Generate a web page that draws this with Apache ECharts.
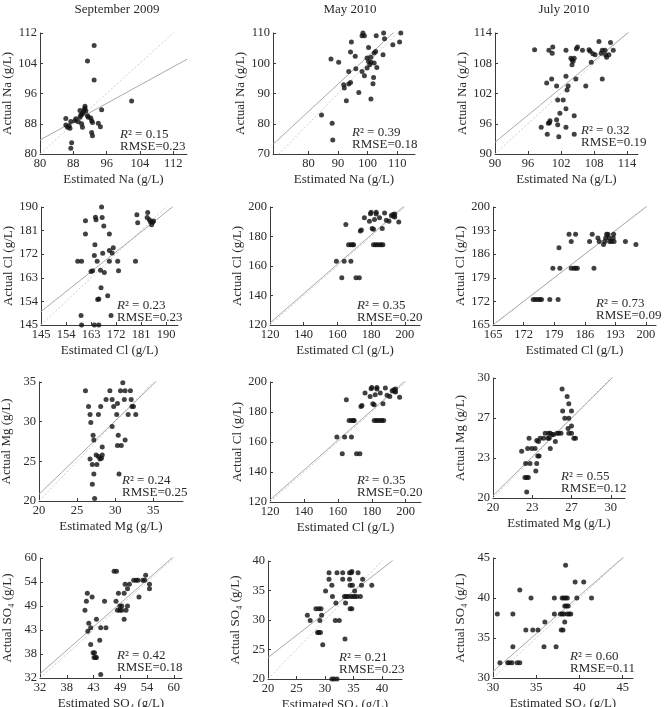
<!DOCTYPE html>
<html><head><meta charset="utf-8">
<script src="https://cdn.jsdelivr.net/npm/echarts@6/dist/echarts.min.js"></script>
<style>html,body{margin:0;padding:0;background:#fff}#c{width:665px;height:707px}</style>
</head><body><div id="c"></div>
<script>
// ---------- DATA ----------
const columnTitles = ['September 2009', 'May 2010', 'July 2010'];
const xAxisNames = ['Estimated Na (g/L)','Estimated Na (g/L)','Estimated Na (g/L)',
  'Estimated Cl (g/L)','Estimated Cl (g/L)','Estimated Cl (g/L)',
  'Estimated Mg (g/L)','Estimated Cl (g/L)','Estimated Mg (g/L)',
  'Estimated SO\u2084 (g/L)','Estimated SO\u2084 (g/L)','Estimated SO\u2084 (g/L)'];
const yAxisNames = ['Actual Na (g/L)','Actual Na (g/L)','Actual Na (g/L)',
  'Actual Cl (g/L)','Actual Cl (g/L)','Actual Cl (g/L)',
  'Actual Mg (g/L)','Actual Cl (g/L)','Actual Mg (g/L)',
  'Actual SO\u2084 (g/L)','Actual SO\u2084 (g/L)','Actual SO\u2084 (g/L)'];
const r2Values   = ['0.15','0.39','0.32','0.23','0.35','0.73','0.24','0.35','0.55','0.42','0.21','0.60'];
const rmseValues = ['0.23','0.18','0.19','0.23','0.20','0.09','0.25','0.20','0.12','0.18','0.23','0.11'];
// fitted regression line y = a + b*x
const fitIntercepts = [35.3, 11.5, 11.6, 27.9, 2.0, 0.0, 2.35, 2.0, 0.8, 1.7, 8.6, 2.4];
const fitSlopes     = [0.605, 0.907, 0.897, 0.843, 0.995, 1.0, 0.925, 0.995, 0.97, 0.978, 0.752, 0.947];

const ticksNaSep = [80, 88, 96, 104, 112];
const ticksNaMayX = [80, 90, 100, 110];
const ticksNaMayY = [70, 80, 90, 100, 110];
const ticksNaJul = [90, 96, 102, 108, 114];
const ticksClSep = [145, 154, 163, 172, 181, 190];
const ticksClMay = [120, 140, 160, 180, 200];
const ticksClJul = [165, 172, 179, 186, 193, 200];
const ticksMgSep = [20, 25, 30, 35];
const ticksMgJul = [20, 23.33, 26.67, 30];
const ticksSo4Sep = [32, 37.6, 43.2, 48.8, 54.4, 60];
const ticksSo4May = [20, 25, 30, 35, 40];
const ticksSo4Jul = [30, 35, 40, 45];

const sep09Na = [[93.0,108.7],[91.4,104.6],[93.0,99.6],[102.0,94.0],[94.8,91.7],[86.2,89.4],[86.2,87.7],[86.6,87.1],[87.2,86.8],[87.0,87.5],[87.4,88.6],[88.4,88.8],[88.6,89.3],[89.2,88.5],[89.6,89.7],[89.8,90.3],[90.1,90.6],[90.4,91.0],[90.6,91.7],[90.8,92.1],[91.0,91.4],[91.4,90.1],[91.6,89.7],[92.2,89.5],[92.4,88.8],[90.0,88.0],[90.2,87.1],[92.6,88.3],[92.4,85.7],[92.6,84.8],[94.0,88.1],[94.5,87.2],[87.6,83.0],[87.4,81.5],[89.6,91.5],[90.8,92.6]];
const may10Na = [[84.4,82.9],[88.0,80.2],[88.2,74.6],[87.6,101.4],[90.2,100.3],[91.9,92.9],[92.1,91.8],[92.8,87.6],[93.6,97.3],[93.6,93.1],[94.2,93.6],[94.2,103.7],[94.5,107.0],[95.8,102.3],[96.0,98.2],[97.0,90.3],[98.1,97.3],[98.1,109.1],[98.4,110.0],[98.9,109.1],[98.9,95.9],[99.8,98.4],[99.8,101.7],[100.3,105.2],[100.3,100.6],[100.7,99.5],[101.1,100.3],[101.1,102.0],[101.1,88.2],[101.8,93.2],[102.0,95.3],[102.2,100.1],[102.2,103.4],[102.7,103.9],[102.9,109.1],[103.1,98.6],[105.2,102.8],[105.4,110.0],[105.7,108.1],[108.5,106.1],[110.8,107.0],[111.2,110.0]];
const jul10Na = [[97.2,110.7],[99.8,110.6],[100.5,111.2],[100.4,110.0],[102.9,110.6],[104.8,110.9],[105.0,111.2],[105.9,110.6],[107.1,110.7],[107.3,110.4],[107.8,109.9],[108.2,109.7],[108.9,112.3],[109.3,110.0],[109.5,110.6],[110.0,110.6],[110.1,109.7],[110.3,109.2],[110.7,109.7],[111.0,112.1],[111.5,110.6],[103.8,109.0],[104.0,108.7],[104.4,109.0],[104.2,108.4],[104.0,107.7],[107.5,108.2],[99.4,104.1],[100.3,104.9],[101.2,103.5],[102.9,105.4],[103.3,103.5],[103.1,102.7],[104.7,104.9],[106.5,103.5],[109.5,104.9],[101.4,100.7],[102.4,100.7],[101.8,98.1],[102.9,99.0],[101.2,96.8],[100.0,96.6],[99.9,96.2],[99.7,96.1],[104.4,97.6],[98.4,95.3],[99.5,93.9],[101.4,95.8],[101.6,93.4],[102.9,95.3],[104.4,93.9]];
const sep09Cl = [[166.8,190.0],[161.0,184.8],[164.6,186.1],[164.8,185.1],[167.0,186.0],[167.6,182.8],[161.0,179.7],[169.6,179.7],[164.4,175.6],[164.2,171.5],[167.2,172.4],[169.6,173.4],[170.6,172.5],[171.0,174.5],[158.2,169.3],[159.6,169.3],[165.2,169.3],[169.6,169.3],[172.6,169.3],[179.0,169.3],[163.0,165.4],[163.6,165.7],[166.4,165.9],[167.8,165.0],[172.9,165.7],[166.6,159.2],[169.0,156.2],[165.8,154.9],[165.4,154.7],[159.4,148.6],[170.2,148.6],[159.6,145.0],[164.2,145.0],[165.8,145.0],[179.5,187.0],[179.8,184.0],[183.4,187.9],[183.2,186.0],[184.0,185.1],[184.4,184.4],[185.2,184.2],[184.8,183.2],[185.5,184.7]];
const may10Cl = [[159.4,163.3],[164.0,163.3],[168.0,163.3],[162.6,152.1],[171.0,152.1],[173.0,152.1],[165.0,188.2],[166.6,174.4],[168.0,174.4],[169.0,174.4],[169.6,174.4],[173.6,183.7],[174.2,184.4],[176.0,192.7],[179.0,190.4],[179.6,195.5],[180.0,196.4],[180.6,185.5],[181.4,184.9],[181.4,174.4],[182.6,174.4],[183.6,174.4],[183.0,196.4],[183.0,195.3],[182.0,191.5],[185.0,174.4],[186.0,174.4],[187.0,174.4],[185.0,192.7],[186.6,185.5],[188.0,196.0],[189.0,191.1],[190.6,190.4],[192.0,194.2],[193.0,194.9],[193.4,193.8],[194.0,195.3],[194.0,193.3],[196.4,189.8]];
const jul10Cl = [[174.2,172.6],[174.7,172.6],[175.2,172.6],[175.7,172.6],[176.1,172.6],[178.0,172.6],[179.9,172.6],[178.7,181.8],[180.3,181.8],[180.1,187.9],[182.4,191.9],[183.9,191.9],[182.9,189.8],[182.9,181.8],[183.5,181.8],[183.9,181.8],[184.3,181.8],[187.1,189.8],[187.7,191.9],[188.1,181.8],[189.0,190.8],[189.3,189.8],[190.3,188.9],[190.6,189.8],[190.8,190.8],[191.0,191.9],[191.3,191.9],[191.6,190.8],[191.7,189.8],[192.1,189.8],[192.5,190.8],[192.6,191.9],[192.7,189.8],[195.3,189.8],[197.7,188.9]];
const sep09Mg = [[26.1,33.9],[26.5,31.9],[26.7,30.9],[26.8,29.9],[27.1,28.3],[27.2,27.7],[26.7,25.3],[27.0,24.6],[27.2,23.4],[27.5,25.8],[27.6,24.6],[27.8,25.6],[28.0,25.3],[28.2,25.4],[28.3,25.8],[27.8,30.9],[28.1,31.9],[28.3,26.8],[28.8,32.8],[29.3,33.9],[29.6,32.8],[29.6,29.4],[29.8,31.9],[30.2,30.9],[30.3,32.3],[30.4,28.3],[30.3,27.0],[30.8,27.0],[30.5,23.4],[30.7,33.9],[31.0,34.9],[31.3,33.9],[31.2,32.8],[31.3,27.7],[31.7,30.9],[32.0,33.9],[32.1,32.8],[32.2,31.9],[32.4,31.9],[32.7,30.9],[27.0,22.1],[27.3,20.3]];
const jul10Mg = [[25.86,29.08],[26.29,28.46],[26.43,27.85],[25.91,27.26],[26.66,27.26],[26.09,26.65],[26.43,26.65],[26.66,26.0],[26.37,25.8],[26.43,25.39],[26.66,25.39],[26.86,24.97],[27.0,24.97],[24.43,25.39],[24.71,25.39],[24.86,25.39],[25.0,25.3],[25.14,25.3],[25.43,25.39],[25.57,25.39],[25.77,25.39],[24.0,24.97],[24.29,24.97],[24.66,24.97],[24.77,24.97],[23.71,24.8],[23.86,24.7],[23.06,24.97],[22.94,24.13],[23.29,24.13],[23.57,24.13],[22.43,23.9],[24.86,24.13],[25.29,24.7],[23.8,23.49],[23.91,23.49],[22.77,22.88],[23.14,22.88],[23.71,22.88],[23.63,22.26],[22.71,21.7],[22.86,21.7],[23.0,21.7],[22.86,20.5]];
const sep09So4 = [[47.5,56.9],[48.0,56.9],[41.9,51.8],[41.7,49.9],[41.4,47.8],[42.9,50.9],[42.2,44.8],[42.0,42.9],[42.6,43.7],[43.8,45.7],[42.6,39.8],[44.5,40.8],[44.7,43.7],[45.8,43.7],[43.1,37.9],[43.4,37.9],[43.6,36.8],[43.8,36.8],[43.3,36.8],[44.7,32.8],[45.5,49.9],[47.9,49.9],[48.4,51.8],[48.2,47.8],[48.7,47.8],[49.1,47.8],[48.7,48.8],[49.1,48.8],[49.6,51.8],[49.8,53.9],[49.6,45.7],[50.0,47.8],[50.3,48.8],[50.3,52.8],[50.7,53.9],[51.6,54.8],[52.1,54.8],[52.5,54.8],[52.7,50.9],[53.5,54.8],[53.9,54.8],[54.1,56.0],[54.9,53.9],[54.9,52.8]];
const may10So4 = [[26.9,30.8],[27.4,29.9],[28.4,31.9],[28.9,31.9],[29.3,31.9],[28.7,27.9],[28.9,27.9],[29.2,27.9],[29.1,29.9],[29.4,30.8],[29.6,25.8],[30.1,34.9],[30.7,38.0],[30.7,36.9],[31.2,35.9],[31.3,34.0],[31.8,29.9],[32.5,29.9],[31.9,32.9],[32.1,38.0],[33.1,38.0],[33.1,36.9],[33.4,34.0],[33.7,34.0],[34.0,34.0],[33.6,32.9],[33.5,26.8],[34.3,38.0],[34.6,38.0],[34.7,38.2],[34.3,36.9],[34.4,35.9],[34.8,35.9],[34.5,34.0],[34.9,34.0],[35.2,34.0],[35.6,34.0],[34.4,31.9],[34.7,31.9],[35.2,34.9],[35.8,38.0],[36.2,34.0],[36.4,35.9],[36.6,36.9],[38.2,35.9],[31.2,20.0],[31.6,20.0],[32.1,20.0]];
const jul10So4 = [[30.5,38.0],[30.8,31.9],[30.5,29.9],[31.7,29.9],[31.9,29.9],[32.1,29.9],[31.7,31.9],[31.9,31.9],[32.2,31.9],[32.3,38.0],[32.3,33.9],[32.8,31.9],[33.1,31.9],[32.9,29.9],[33.1,41.0],[33.8,29.9],[33.8,36.0],[34.6,36.0],[35.2,36.0],[34.4,40.0],[36.0,37.0],[35.9,33.9],[37.1,40.0],[37.1,38.0],[37.3,33.9],[37.8,38.0],[38.0,38.0],[38.2,38.0],[37.9,36.0],[38.1,36.0],[38.0,40.0],[38.2,40.0],[38.4,40.0],[38.6,40.0],[38.3,39.0],[38.5,39.0],[38.7,39.0],[38.3,37.0],[38.4,44.1],[38.6,38.0],[38.8,38.0],[39.0,38.0],[39.5,42.0],[39.7,40.0],[40.5,42.0],[41.4,40.0]];

const panelData = [sep09Na, may10Na, jul10Na, sep09Cl, may10Cl, jul10Cl, sep09Mg, may10Cl, jul10Mg, sep09So4, may10So4, jul10So4];
const xTicks = [ticksNaSep, ticksNaMayX, ticksNaJul, ticksClSep, ticksClMay, ticksClJul, ticksMgSep, ticksClMay, ticksMgJul, ticksSo4Sep, ticksSo4May, ticksSo4Jul];
const yTicks = [ticksNaSep, ticksNaMayY, ticksNaJul, ticksClSep, ticksClMay, ticksClJul, ticksMgSep, ticksClMay, ticksMgJul, ticksSo4Sep, ticksSo4May, ticksSo4Jul];

// ---------- LAYOUT ----------
const xRanges = [[80,115.3],[68,116],[90,116],[145,194.3],[120,209],[165,202.3],[20,38.9],[120,209],[20,31.2],[32,61.7],[20,43.5],[30,46.2]];
const yRanges = [[80,112],[70,110],[90,114],[145,190],[120,200],[165,200],[20,35],[120,200],[20,30],[32,60],[20,40],[30,45]];
const gridBoxes = [[40,33,147,121],[273,33,142,121],[495,33,143,121],
  [41,207,137,118],[270,207,150,118],[493,207,163,118],
  [39,382,144,119],[270,382,151,120],[493,378,132,120],
  [40,558,142,120],[268,561,134,118],[493,558,140,120]];
const annotPos = [[120,129],[352,127],[581,125],[117,300],[357,300],[596,298],[122,475],[357,475],[561,471],[117,650],[339,652],[570,651]];
const titlePos = [[117,10],[350,10],[564,10]];

const F = '"Liberation Serif","Times New Roman",serif';
const TXT = '#2a2a2a';
const AX = '#3a3a3a';

const grids = [], xAxes = [], yAxes = [], series = [], graphics = [];
for (let i = 0; i < 12; i++) {
  const g = gridBoxes[i];
  grids.push({left: g[0], top: g[1], width: g[2], height: g[3], containLabel: false, outerBoundsMode: 'none'});
  const fmt = v => String(Math.round(v));
  xAxes.push({type: 'value', gridIndex: i, min: xRanges[i][0], max: xRanges[i][1],
    name: xAxisNames[i], nameLocation: 'middle', nameGap: 19,
    nameTextStyle: {fontFamily: F, fontSize: 13, color: TXT},
    axisLine: {show: true, onZero: false, lineStyle: {color: AX, width: 1}},
    axisTick: {show: true, inside: true, length: 3, customValues: xTicks[i], lineStyle: {color: AX}},
    axisLabel: {customValues: xTicks[i], formatter: fmt, fontFamily: F, fontSize: 12.5, color: TXT, margin: 3},
    splitLine: {show: false}});
  yAxes.push({type: 'value', gridIndex: i, min: yRanges[i][0], max: yRanges[i][1],
    name: yAxisNames[i], nameLocation: 'middle', nameGap: 26,
    nameTextStyle: {fontFamily: F, fontSize: 13, color: TXT},
    axisLine: {show: true, onZero: false, lineStyle: {color: AX, width: 1}},
    axisTick: {show: true, inside: true, length: 3, customValues: yTicks[i], lineStyle: {color: AX}},
    axisLabel: {customValues: yTicks[i], formatter: fmt, fontFamily: F, fontSize: 12.5, color: TXT, margin: 3},
    splitLine: {show: false}});
  const x0 = xRanges[i][0], x1 = xRanges[i][1];
  // 1:1 reference line (dashed)
  series.push({type: 'line', xAxisIndex: i, yAxisIndex: i, data: [[x0, x0], [x1, x1]],
    symbol: 'none', silent: true, clip: true, z: 1,
    lineStyle: {color: '#cdcdcd', width: 1, type: [2, 2]}});
  // regression line
  const a = fitIntercepts[i], b = fitSlopes[i];
  series.push({type: 'line', xAxisIndex: i, yAxisIndex: i, data: [[x0, a + b * x0], [x1, a + b * x1]],
    symbol: 'none', silent: true, clip: true, z: 2,
    lineStyle: {color: '#a9a9a9', width: 1}});
  series.push({type: 'scatter', xAxisIndex: i, yAxisIndex: i, data: panelData[i],
    symbol: 'circle', symbolSize: 5, itemStyle: {color: '#111'}, z: 3});
  graphics.push({type: 'text', x: annotPos[i][0], y: annotPos[i][1], silent: true,
    style: {text: '{i|R}\u00b2 = ' + r2Values[i] + '\nRMSE=' + rmseValues[i],
      fontFamily: F, fontSize: 13, lineHeight: 12, fill: TXT,
      align: 'left', verticalAlign: 'top', textAlign: 'left', textVerticalAlign: 'top',
      rich: {i: {fontFamily: F, fontSize: 13, fontStyle: 'italic', lineHeight: 12, color: TXT}}}});
}
for (let c = 0; c < 3; c++) {
  graphics.push({type: 'text', x: titlePos[c][0], y: titlePos[c][1], silent: true,
    style: {text: columnTitles[c], fontFamily: F, fontSize: 13, fill: TXT,
      align: 'center', verticalAlign: 'middle', textAlign: 'center', textVerticalAlign: 'middle'}});
}

const chart = echarts.init(document.getElementById('c'), null, {renderer: 'canvas'});
chart.setOption({animation: false, backgroundColor: '#fff', grid: grids, xAxis: xAxes, yAxis: yAxes, series: series, graphic: graphics});
</script></body></html>
